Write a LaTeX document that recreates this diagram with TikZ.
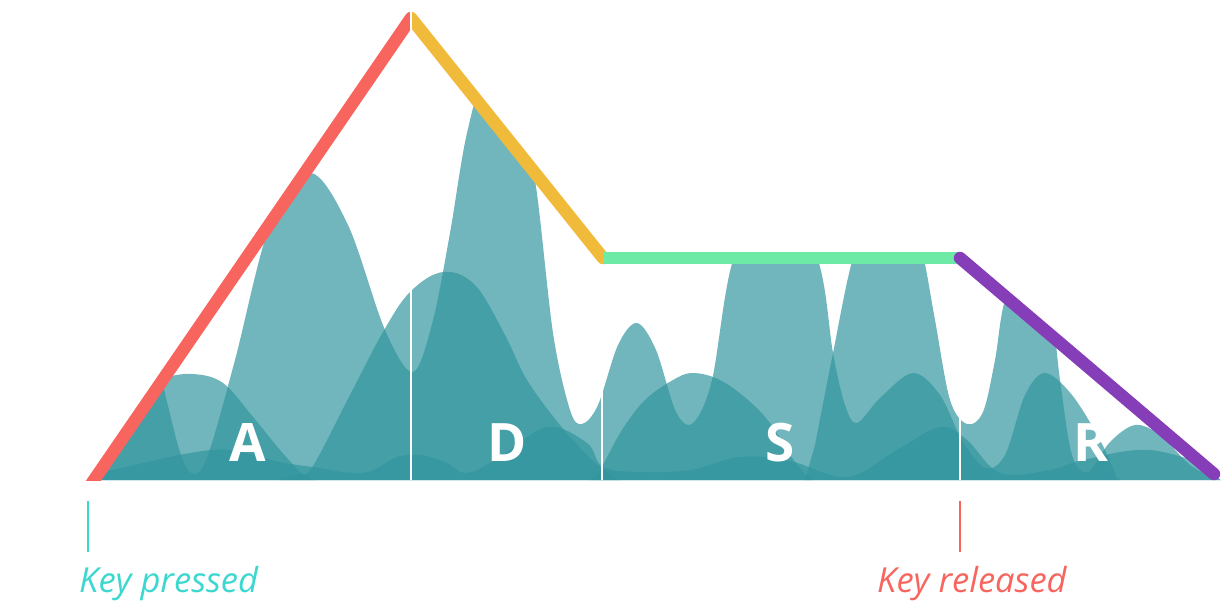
\documentclass[tikz,border=0pt]{standalone}
\usepackage{fontspec}
\setsansfont{Open Sans}
\usetikzlibrary{calc}
\definecolor{adsrRed}{RGB}{248, 101, 95}
\definecolor{adsrYellow}{RGB}{240, 186, 59}
\definecolor{adsrGreen}{RGB}{110, 234, 167}
\definecolor{adsrPurple}{RGB}{133, 62, 184}
\definecolor{adsrTeal}{RGB}{49, 149, 158}
\definecolor{adsrCyan}{RGB}{60, 216, 207}

\begin{document}
\begin{tikzpicture}[
    x=1pt, y=-1pt,
    wave/.style={
        fill=adsrTeal,
        fill opacity=0.69
    },
    envelope/.style={
        line width=12.5pt,
        line cap=round
    },
    divider/.style={
        draw=white,
        line width=2.2pt
    },
    stage/.style={
        text=white,
        inner sep=0pt,
        anchor=base,
        font=\sffamily\bfseries\fontsize{53}{53}\selectfont
    },
    keylabel/.style={
        inner sep=0pt,
        anchor=base west,
        font=\sffamily\itshape\fontsize{34.5}{35}\selectfont
    },
    tick/.style={
        line width=2pt
    }
]
\useasboundingbox (0,0) rectangle (1221,603);

% ================= ENVELOPE CORNERS =================
\coordinate (start) at (94,480);
\coordinate (peak) at (411,18);
\coordinate (sustainL) at (603,258);
\coordinate (sustainR) at (960,258);
\coordinate (stop) at (1214,474);

% ================= WAVES =================
\begin{scope}
    \clip (start) -- (peak) -- (sustainL) -- (sustainR) -- (1221,480) -- cycle;
    % tall wave
    \fill[wave] (60,480) -- plot[smooth, tension=0.55] coordinates {
        (100,150) (140,290) (163,385) (180,452) (193,474) (208,455) (235,360)
        (270,225) (310,173) (348,225) (385,330) (413,372) (433,320) (450,233)
        (467,133) (490,60) (515,95) (535,180) (553,333) (570,410) (582,424)
        (598,405) (618,345) (637,323) (656,350) (676,412) (693,423) (712,380)
        (733,260) (775,175) (818,260) (833,353) (845,405) (857,423) (880,398)
        (913,373) (940,395) (962,440) (985,468) (1005,455) (1025,395) (1045,373)
        (1072,395) (1100,440) (1117,478)} -- (1120,480) -- cycle;
    % second tall wave
    \fill[wave] (805,480) -- plot[smooth, tension=0.55] coordinates {
        (815,445) (833,353) (853,258) (880,190) (905,195) (922,250) (935,320)
        (950,400) (967,424) (983,412) (995,360) (1005,300) (1030,245) (1050,300)
        (1060,380) (1072,455) (1088,472) (1110,442) (1135,425) (1160,435)
        (1190,465) (1215,478)} -- (1221,480) -- cycle;
    % humps
    \fill[wave] (60,480) -- plot[smooth, tension=0.6] coordinates {
        (100,420) (140,388) (163,378) (193,374) (223,383) (253,417) (280,450)
        (300,472)} -- (315,480) -- cycle;
    \fill[wave] (280,480) -- plot[smooth, tension=0.6] coordinates {
        (300,474) (313,466) (350,395) (383,332) (410,292) (443,272) (475,285)
        (505,335) (527,380) (560,425) (590,458) (610,474)} -- (620,480) -- cycle;
    \fill[wave] (590,480) -- plot[smooth, tension=0.6] coordinates {
        (598,474) (603,465) (622,430) (645,400) (673,380) (693,373) (720,380)
        (748,400) (770,423) (790,455) (805,474)} -- (812,480) -- cycle;
    % low wave
    \fill[wave] (60,480) -- plot[smooth, tension=0.6] coordinates {
        (80,477) (130,466) (190,453) (230,450) (280,462) (313,467) (363,473)
        (397,457) (420,455) (445,462) (467,473) (500,457) (547,427) (587,443)
        (603,467) (640,472) (690,470) (740,457) (790,461) (847,477) (897,450)
        (940,427) (967,440) (1000,473) (1050,470) (1083,460) (1150,450)
        (1221,470)} -- (1221,480) -- cycle;
    % stage borders
    \draw[divider] (602,480) -- (602,262);
    \draw[divider] (sustainR |- 0,480) -- (960,262);
\end{scope}

% ================= STAGE LETTERS =================
\node[stage] (attack) at (248,461) {A};
\node[stage] (decay) at (507,461) {D};
\node[stage] (sustain) at (780,461) {S};
\node[stage] (release) at (1091,461) {R};

% ================= ENVELOPE =================
\begin{scope}
    \clip (0,0) rectangle (411,480);
    \draw[envelope, adsrRed] ($(start)!-0.06!(peak)$) -- (peak);
\end{scope}
\begin{scope}
    \clip (411,0) rectangle (1221,603);
    \draw[envelope, adsrYellow] (peak) -- (sustainL);
\end{scope}
\draw[envelope, adsrGreen, line cap=butt] (sustainL) -- (sustainR);
\draw[envelope, adsrPurple] (sustainR) -- (stop);
\draw[divider] (411,480) -- (411,4);

% ================= KEY EVENTS =================
\coordinate (pressTop) at (88,501);
\coordinate (pressBot) at (88,552);
\coordinate (releaseTop) at (960,501);
\coordinate (releaseBot) at (960,552);
\draw[tick, adsrCyan] (pressTop) -- (pressBot);
\draw[tick, adsrRed] (releaseTop) -- (releaseBot);

\node[keylabel, text=adsrCyan] (pressLabel) at (79,592) {Key pressed};
\node[keylabel, text=adsrRed] (releaseLabel) at (877,592) {Key released};

\end{tikzpicture}
\end{document}
